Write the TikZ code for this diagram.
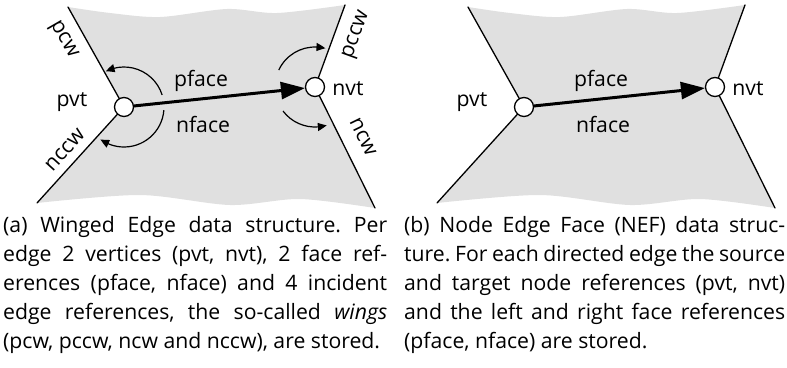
\documentclass[tikz,border=0pt]{standalone}
\usepackage{fontspec}
\setmainfont{Open Sans}
\usetikzlibrary{arrows.meta,bending}
\definecolor{facegray}{RGB}{224,224,224}
\frenchspacing
\tikzset{
  wing/.style={line width=1.3pt, line cap=round},
  vertex/.style={circle, draw, fill=white, line width=1.3pt, minimum size=19pt, inner sep=0pt},
  edgearrow/.style={line width=3pt, -{Triangle[length=24pt,width=17pt]}},
  turn/.style={line width=1.2pt, -{Triangle[length=9pt,width=8pt,bend]}},
  lbl/.style={inner sep=0pt, font=\fontsize{21.2}{26}\selectfont},
  capline/.style={inner sep=0pt, anchor=base west, font=\fontsize{21.2}{29}\selectfont}
}
\begin{document}
\begin{tikzpicture}[x=1pt,y=1pt]
\useasboundingbox (0,0) rectangle (787,-367);
% ---------- left panel ----------
\coordinate (pvA) at (124,-107);
\coordinate (nvA) at (315,-87);
\coordinate (tlA) at (68,-7);
\coordinate (trA) at (345,-5);
\coordinate (blA) at (37,-203);
\coordinate (brA) at (375,-208);
\fill[facegray] plot[smooth] coordinates {(68,-7) (110,-13) (160,-17) (227,-9) (277,-13) (345,-5)}
  -- (nvA) -- plot[smooth] coordinates {(375,-208) (300,-199) (230,-205) (140,-195) (37,-203)}
  -- (pvA) -- cycle;
\draw[wing] (tlA) -- (pvA) -- (blA);
\draw[wing] (trA) -- (nvA) -- (brA);
\draw[turn] ([shift={(17.5:40pt)}]pvA) arc[start angle=17.5, end angle=117, radius=40pt];
\draw[turn] ([shift={(-4.5:40pt)}]pvA) arc[start angle=-4.5, end angle=-126, radius=40pt];
\draw[turn] ([shift={(155:40pt)}]nvA) arc[start angle=155, end angle=75, radius=40pt];
\draw[turn] ([shift={(217:40pt)}]nvA) arc[start angle=217, end angle=287, radius=40pt];
\node[vertex] (pvtA) at (pvA) {};
\node[vertex] (nvtA) at (nvA) {};
\draw[edgearrow] (pvtA) -- (nvtA);
\node[lbl] (lpvtA) at (72,-102) {pvt};
\node[lbl] (lnvtA) at (348,-89) {nvt};
\node[lbl] (lpfA) at (201,-81) {pface};
\node[lbl] (lnfA) at (203,-124) {nface};
\node[lbl, rotate=-60] (lpcw) at (63,-40) {pcw};
\node[lbl, rotate=48] (lnccw) at (65,-150) {nccw};
\node[lbl, rotate=70] (lpccw) at (357,-35) {pccw};
\node[lbl, rotate=-64] (lncw) at (363,-137) {ncw};
% ---------- right panel ----------
\coordinate (pvB) at (524,-107);
\coordinate (nvB) at (715,-87);
\coordinate (tlB) at (468,-7);
\coordinate (trB) at (745,-5);
\coordinate (blB) at (437,-203);
\coordinate (brB) at (775,-208);
\fill[facegray] plot[smooth] coordinates {(468,-7) (510,-13) (560,-17) (627,-9) (677,-13) (745,-5)}
  -- (nvB) -- plot[smooth] coordinates {(775,-208) (700,-199) (630,-205) (540,-195) (437,-203)}
  -- (pvB) -- cycle;
\draw[wing] (tlB) -- (pvB) -- (blB);
\draw[wing] (trB) -- (nvB) -- (brB);
\node[vertex] (pvtB) at (pvB) {};
\node[vertex] (nvtB) at (nvB) {};
\draw[edgearrow] (pvtB) -- (nvtB);
\node[lbl] (lpvtB) at (472,-102) {pvt};
\node[lbl] (lnvtB) at (748,-89) {nvt};
\node[lbl] (lpfB) at (601,-81) {pface};
\node[lbl] (lnfB) at (603,-124) {nface};
% ---------- captions ----------
\node[capline] (ca1) at (3,-232) {\makebox[384pt][s]{(a) Winged Edge data structure. Per}};
\node[capline] (ca2) at (3,-261) {\makebox[384pt][s]{edge 2 vertices (pvt, nvt), 2 face ref-}};
\node[capline] (ca3) at (3,-290) {\makebox[384pt][s]{erences (pface, nface) and 4 incident}};
\node[capline] (ca4) at (3,-319) {\makebox[384pt][s]{edge references, the so-called \emph{wings}}};
\node[capline] (ca5) at (3,-348) {(pcw, pccw, ncw and nccw), are stored.};
\node[capline] (cb1) at (404,-232) {\makebox[381pt][s]{(b) Node Edge Face (NEF) data struc-}};
\node[capline] (cb2) at (404,-261) {\makebox[381pt][s]{ture. For each directed edge the source}};
\node[capline] (cb3) at (404,-290) {\makebox[381pt][s]{and target node references (pvt, nvt)}};
\node[capline] (cb4) at (404,-319) {\makebox[381pt][s]{and the left and right face references}};
\node[capline] (cb5) at (404,-348) {(pface, nface) are stored.};
\end{tikzpicture}
\end{document}
